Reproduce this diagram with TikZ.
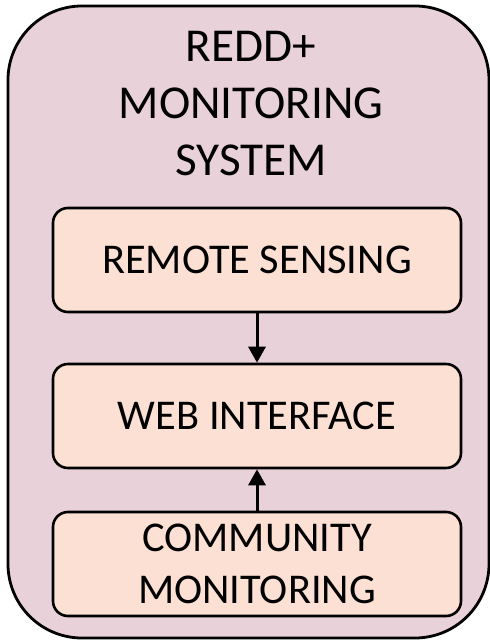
\documentclass[tikz,border=0pt]{standalone}
\usepackage{fontspec}
\setmainfont{Carlito}
\usetikzlibrary{arrows.meta}
\definecolor{systemfill}{HTML}{E9D1D9}
\definecolor{partfill}{HTML}{FCE0D4}

\begin{document}
\begin{tikzpicture}[x=0.5pt,y=-0.5pt,
  system/.style={draw,line width=1.4pt,fill=systemfill,rounded corners=37pt},
  part/.style={draw,line width=1.3pt,fill=partfill,rounded corners=7.5pt,minimum width=204pt,minimum height=52pt,align=center,inner sep=0pt,font=\fontsize{21.2}{26}\selectfont},
  link/.style={-{Triangle[width=8.5pt,length=8pt]},line width=1.5pt}]
\useasboundingbox (0,0) rectangle (490,642);
\draw[system] (8,6) rectangle (489,638);
\node[align=center,font=\fontsize{23.6}{28.5}\selectfont] (title) at (251,104) {REDD+\\MONITORING\\SYSTEM};
\node[part] (remote) at (257,260) {REMOTE SENSING};
\node[part] (web) at (257,416) {WEB INTERFACE};
\node[part] (community) at (257,564) {COMMUNITY\\MONITORING};
\draw[link] (remote) -- (web);
\draw[link] (community) -- (web);
\end{tikzpicture}
\end{document}
